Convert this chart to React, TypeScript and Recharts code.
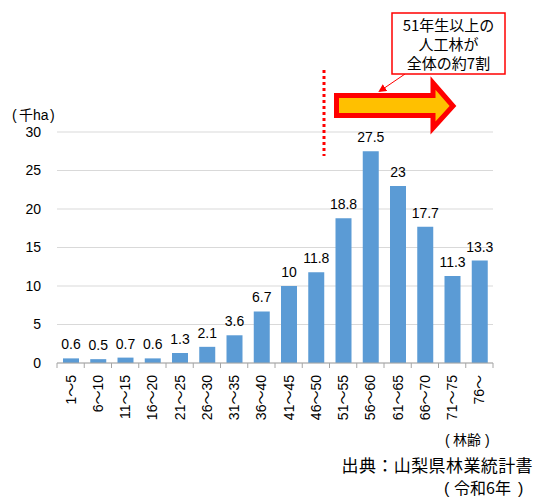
import React from "react";
import { BarChart, Bar, XAxis, YAxis, CartesianGrid, LabelList } from "recharts";

const ageClasses = ["1～5", "6～10", "11～15", "16～20", "21～25", "26～30", "31～35", "36～40", "41～45", "46～50", "51～55", "56～60", "61～65", "66～70", "71～75", "76～"];
const areaValues = [0.6, 0.5, 0.7, 0.6, 1.3, 2.1, 3.6, 6.7, 10, 11.8, 18.8, 27.5, 23, 17.7, 11.3, 13.3];
const yTicks = [0, 5, 10, 15, 20, 25, 30];

const data = ageClasses.map((age, i) => ({ age, value: areaValues[i] }));

const FONT = '"Liberation Sans", "Noto Sans CJK JP", sans-serif';
const JFONT = '"Noto Sans CJK JP", sans-serif';
const PFONT = '"Liberation Sans", sans-serif';
const W = 535;
const H = 500;
const PLOT_LEFT = 57;
const PLOT_RIGHT = 493;
const BAND = (PLOT_RIGHT - PLOT_LEFT) / ageClasses.length;

const XTick = (props: any) => {
  const { x, y, payload, index } = props;
  const half = BAND / 2;
  return (
    <g>
      <line x1={x - half} y1={y - 8} x2={x - half} y2={y - 3} stroke="#A6A6A6" />
      {index === ageClasses.length - 1 && (
        <line x1={x + half} y1={y - 8} x2={x + half} y2={y - 3} stroke="#A6A6A6" />
      )}
      <text
        transform={`translate(${x + 5},${y + 4}) rotate(-90)`}
        textAnchor="end"
        fontSize={14}
        fill="#000"
        fontFamily={FONT}
      >
        {payload.value}
      </text>
    </g>
  );
};

export default function App() {
  return (
    <div style={{ position: "absolute", left: 0, top: 0, width: W, height: H, background: "#fff" }}>
      <BarChart
        width={W}
        height={H}
        data={data}
        margin={{ top: 132, right: W - PLOT_RIGHT, bottom: 67, left: 0 }}
      >
        <CartesianGrid horizontal vertical={false} stroke="#D9D9D9" />
        <XAxis
          dataKey="age"
          interval={0}
          tickLine={false}
          axisLine={{ stroke: "#A6A6A6" }}
          height={70}
          tick={<XTick />}
        />
        <YAxis
          width={PLOT_LEFT}
          domain={[0, 30]}
          ticks={yTicks}
          axisLine={false}
          tickLine={false}
          tick={{ fontSize: 14, fill: "#000", fontFamily: FONT }}
          tickMargin={10}
        />
        <Bar dataKey="value" fill="#5B9BD5" barSize={16} isAnimationActive={false}>
          <LabelList dataKey="value" position="top" offset={9} fontSize={14} fill="#000" fontFamily={FONT} />
        </Bar>
      </BarChart>
      <svg width={W} height={H} style={{ position: "absolute", left: 0, top: 0, pointerEvents: "none" }}>
        <defs>
          <marker id="ah" markerWidth="8" markerHeight="8" refX="6" refY="4" orient="auto" markerUnits="userSpaceOnUse">
            <path d="M0,0 L8,4 L0,8 z" fill="#FF0000" />
          </marker>
        </defs>
        <text y={120} fontSize={14} fill="#000">
          <tspan x={12} fontFamily={PFONT}>(</tspan>
          <tspan x={19} fontFamily={JFONT}>千</tspan>
          <tspan fontFamily={PFONT}>ha</tspan>
          <tspan x={50} fontFamily={PFONT}>)</tspan>
        </text>
        <line x1={324} y1={70} x2={324} y2={156} stroke="#FF0000" strokeWidth={3} strokeDasharray="3 3" />
        <polygon
          points="336.5,95.5 433,95.5 433,83 453,106 433,128 433,115.5 336.5,115.5"
          fill="#FFC000"
          stroke="#FF0000"
          strokeWidth={5}
          strokeLinejoin="miter"
        />
        <line x1={405} y1={74} x2={380} y2={91} stroke="#FF0000" strokeWidth={1} markerEnd="url(#ah)" />
        <rect x={392} y={13} width={113} height={61} fill="#fff" stroke="#FF0000" strokeWidth={1.5} />
        <text x={448.5} y={31} textAnchor="middle" fontSize={15} fontFamily={JFONT} fontWeight={400} fill="#000">51年生以上の</text>
        <text x={448.5} y={50} textAnchor="middle" fontSize={15} fontFamily={JFONT} fontWeight={400} fill="#000">人工林が</text>
        <text x={448.5} y={69} textAnchor="middle" fontSize={15} fontFamily={JFONT} fontWeight={400} fill="#000">全体の約7割</text>
        <text y={445} fontSize={14} fill="#000">
          <tspan x={445} fontFamily={PFONT}>(</tspan>
          <tspan x={453} fontFamily={JFONT}>林齢</tspan>
          <tspan x={485} fontFamily={PFONT}>)</tspan>
        </text>
        <text x={533} y={472} textAnchor="end" fontSize={17} letterSpacing={0.4} fontFamily={JFONT} fontWeight={400} fill="#000">出典：山梨県林業統計書</text>
        <text y={494} fontSize={16} fill="#000">
          <tspan x={444} fontFamily={PFONT}>(</tspan>
          <tspan x={454} fontFamily={JFONT}>令和6年</tspan>
          <tspan x={518} fontFamily={PFONT}>)</tspan>
        </text>
      </svg>
    </div>
  );
}
